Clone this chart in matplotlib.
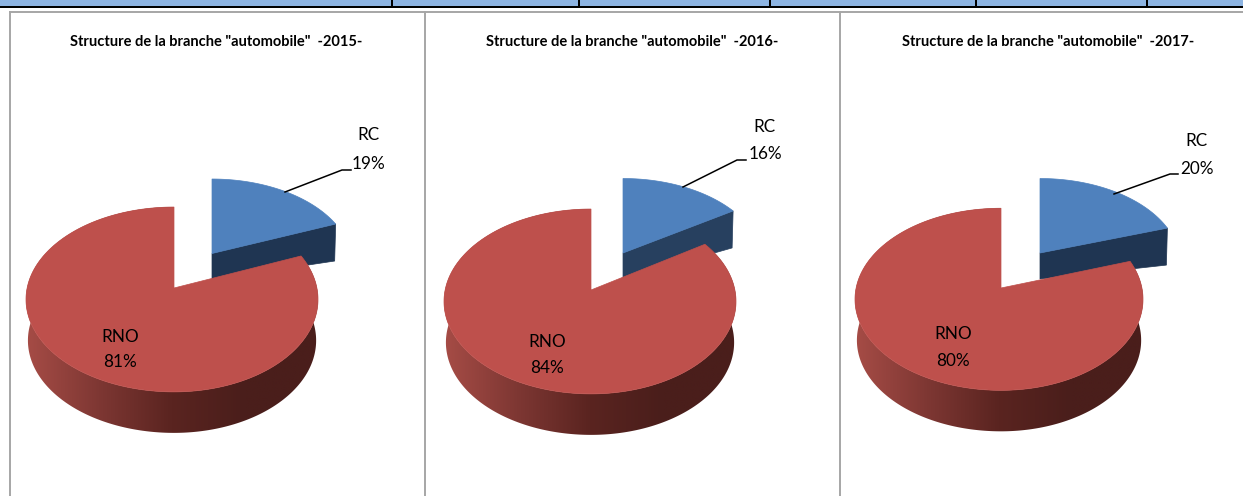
import numpy as np
import matplotlib
matplotlib.use("Agg")
import matplotlib.pyplot as plt
from matplotlib.patches import Polygon, Rectangle
from matplotlib.colors import LinearSegmentedColormap

plt.rcParams['font.family'] = ['Lato', 'DejaVu Sans']

# ---- data ----
years = ["2015", "2016", "2017"]
categories = ["RC", "RNO"]
rc_values = [19, 16, 20]
rno_values = [81, 84, 80]
title_template = 'Structure de la branche "automobile"  -{}-'

# ---- layout (pixels) ----
W, H = 1243, 496
red_apex = [(174, 288), (591, 290), (1001, 288)]
red_left = [148, 147, 146]
red_right = [144, 145, 142]
red_yscale = [1.0, 1.0, 0.985]
red_depth = [41, 41, 41]
blue_apex = [(212, 253.5), (623, 253), (1040, 253)]
title_pos = [(216, 42), (632, 42), (1048, 42)]
rc_name_pos = [(368, 135), (764, 127), (1196, 141)]
rc_pct_pos = [(368, 164), (765, 154), (1197, 169)]
rno_name_pos = [(120, 337), (547, 342), (953, 334)]
rno_pct_pos = [(120, 362), (547, 368), (953, 361)]
leaders = [[(285, 192), (342, 170), (351, 170)],
           [(683, 187), (737, 160), (746, 160)],
           [(1114, 194), (1170, 174), (1178, 174)]]
blue_side = ["#1F3552", "#27405F", "#1F3552"]
frame_x = [10, 425, 840]
divider_x = [392, 579, 770, 976, 1147]

B, K = 91.0, 0.124      # perspective of the top face
NORM = np.sqrt(1 - K ** 2)
BLUE_XS, BLUE_YS = 0.96, 0.92
TOP_RED = "#BE504C"
TOP_BLUE = "#4F81BD"
side_cmap = LinearSegmentedColormap.from_list(
    "side", ["#A64C46", "#7E3733", "#5A2420", "#4A1E1B", "#4A1E1B"])


def project(t, left, right, yscale=1.0):
    """Clock angle (radians from 12 o'clock) -> pixel offset from the apex."""
    X, Y = np.sin(t), np.cos(t)
    d = 1 + K * Y
    half = np.where(X >= 0, right, left) * NORM
    return half * X / d, -yscale * B * Y / d


fig = plt.figure(figsize=(W / 100, H / 100), dpi=100)
ax = fig.add_axes([0, 0, 1, 1])
ax.axis("off")

# table strip above the charts
ax.add_patch(Rectangle((0, 0), W, 6, fc="#8DB4E2", ec="none"))
ax.add_patch(Rectangle((0, 6), W, 2, fc="black", ec="none"))
for x in divider_x:
    ax.add_patch(Rectangle((x - 1, 0), 2, 7, fc="black", ec="none"))

# chart frames
ax.plot([frame_x[0], W], [12, 12], color="#A6A6A6", lw=1.4)
for x in frame_x:
    ax.plot([x, x], [12, H], color="#A6A6A6", lw=1.4)

gradient = np.linspace(0, 1, 256).reshape(1, -1)

for i, year in enumerate(years):
    rc, rno = rc_values[i], rno_values[i]
    total = rc + rno
    split = 2 * np.pi * rc / total
    L, R, YS, D = red_left[i], red_right[i], red_yscale[i], red_depth[i]

    # RC slice (exploded, behind)
    bx, by = blue_apex[i]
    ts = np.linspace(0, split, 80)
    ox, oy = project(ts, 146 * BLUE_XS, 146 * BLUE_XS, BLUE_YS)
    top_pts = np.column_stack([bx + ox, by + oy])
    end = top_pts[-1]
    ax.add_patch(Polygon([(bx, by), tuple(end), (end[0] - 1, end[1] + 37), (bx, by + 26)],
                         closed=True, fc=blue_side[i], ec=blue_side[i], lw=0.5, zorder=2))
    ax.add_patch(Polygon(np.vstack([[bx, by], top_pts]), closed=True,
                         fc=TOP_BLUE, ec=TOP_BLUE, lw=0.5, zorder=3))

    # RNO slice: side wall (gradient clipped to the wall) then top face
    rx, ry = red_apex[i]
    ts = np.linspace(split, 2 * np.pi, 360)
    ox, oy = project(ts, L, R, YS)
    top = np.column_stack([rx + ox, ry + oy])
    bottom = np.column_stack([rx + ox * 0.987, ry + oy + D])
    wall = Polygon(np.vstack([top, bottom[::-1]]), closed=True, fc="none", ec="none",
                   transform=ax.transData)
    ax.add_patch(wall)
    im = ax.imshow(gradient, cmap=side_cmap, aspect="auto", zorder=4,
                   extent=(rx - L, rx + R, ry + 160, ry - 100), interpolation="bilinear")
    im.set_clip_path(wall)
    ax.add_patch(Polygon(np.vstack([[rx, ry], top]), closed=True,
                         fc=TOP_RED, ec=TOP_RED, lw=0.5, zorder=5))

    # texts
    ax.text(*title_pos[i], title_template.format(year), ha="center", va="center",
            fontsize=10.5, fontweight="bold", color="black", zorder=8)
    ax.text(*rc_name_pos[i], categories[0], ha="center", va="center", fontsize=12.3, color="black", zorder=8)
    ax.text(*rc_pct_pos[i], f"{rc}%", ha="center", va="center", fontsize=12.3, color="black", zorder=8)
    ax.text(*rno_name_pos[i], categories[1], ha="center", va="center", fontsize=12.3, color="black", zorder=8)
    ax.text(*rno_pct_pos[i], f"{rno}%", ha="center", va="center", fontsize=12.3, color="black", zorder=8)

    lx, ly = zip(*leaders[i])
    ax.plot(lx, ly, color="black", lw=1.1, zorder=7, solid_joinstyle="miter")

ax.set_xlim(0, W)
ax.set_ylim(H, 0)
fig.savefig("out.png", dpi=100, facecolor="white")
